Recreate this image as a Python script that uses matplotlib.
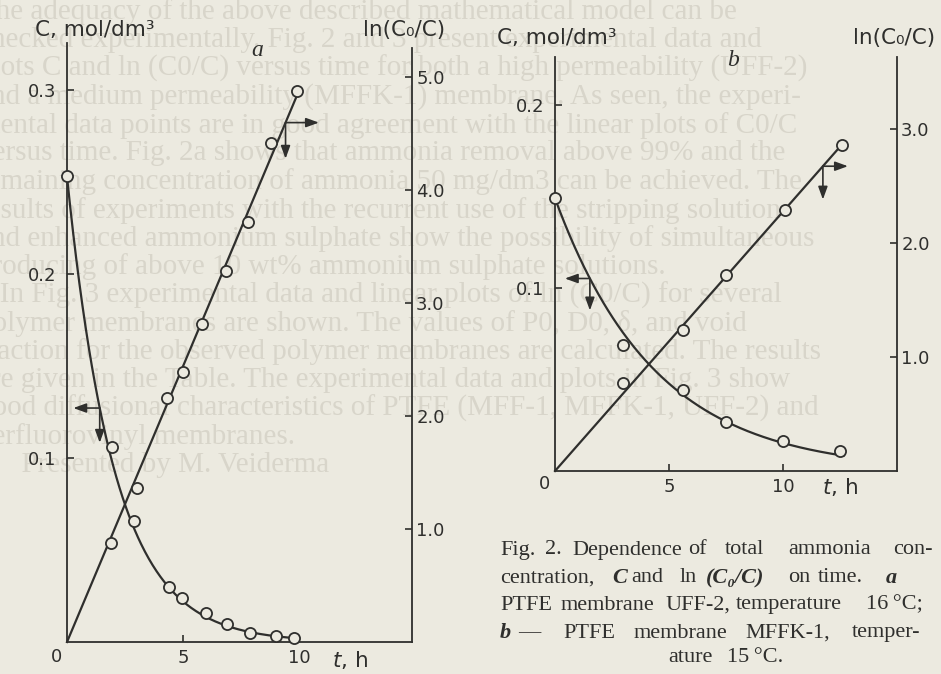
import numpy as np
import matplotlib
matplotlib.use("Agg")
import matplotlib.pyplot as plt

# ---------------- data ----------------
# panel a : PTFE membrane UFF-2, 16 °C
a_t_conc = [0.0, 1.95, 2.9, 4.4, 4.95, 6.0, 6.9, 7.9, 9.0, 9.8]
a_conc = [0.253, 0.106, 0.066, 0.030, 0.024, 0.016, 0.010, 0.005, 0.003, 0.002]
a_t_ln = [1.9, 3.0, 4.3, 5.0, 5.8, 6.85, 7.8, 8.8, 9.9]
a_ln = [0.88, 1.36, 2.16, 2.39, 2.81, 3.28, 3.72, 4.42, 4.88]
# panel b : PTFE membrane MFFK-1, 15 °C
b_t_conc = [0.0, 3.0, 5.6, 7.5, 10.0, 12.5]
b_conc = [0.149, 0.069, 0.044, 0.027, 0.0166, 0.011]
b_t_ln = [3.0, 5.6, 7.5, 10.1, 12.6]
b_ln = [0.77, 1.24, 1.72, 2.29, 2.86]

c_ticks_a = [0.1, 0.2, 0.3]
ln_ticks_a = [1.0, 2.0, 3.0, 4.0, 5.0]
c_ticks_b = [0.1, 0.2]
ln_ticks_b = [1.0, 2.0, 3.0]
t_ticks = [5, 10]

caption_lines = [
    [("Fig.", 500, ""), ("2.", 545, ""), ("Dependence", 572, ""), ("of", 688, ""),
     ("total", 725, ""), ("ammonia", 788, ""), ("con-", 893, "")],
    [("centration,", 500, ""), ("C", 612, "bi"), ("and", 631, ""), ("ln", 680, ""),
     ("(C\u2080/C)", 706, "bi"), ("on", 788, ""), ("time.", 818, ""), ("a", 886, "bi")],
    [("PTFE", 500, ""), ("membrane", 561, ""), ("UFF-2,", 665, ""),
     ("temperature", 736, ""), ("16\u2009°C;", 866, "")],
    [("b", 500, "bi"), ("\u2014", 518, ""), ("PTFE", 563, ""), ("membrane", 634, ""),
     ("MFFK-1,", 745, ""), ("temper-", 852, "")],
    [("ature", 668, ""), ("15\u2009°C.", 727, "")],
]
caption_y = [550, 578, 605, 633, 658]

background_text = [
    "The adequacy of the above described mathematical model can be",
    "checked experimentally. Fig. 2 and 3 present experimental data and",
    "plots C and ln (C0/C) versus time for both a high permeability (UFF-2)",
    "and a medium permeability (MFFK-1) membrane. As seen, the experi-",
    "mental data points are in good agreement with the linear plots of C0/C",
    "versus time. Fig. 2a shows that ammonia removal above 99% and the",
    "remaining concentration of ammonia 50 mg/dm3 can be achieved. The",
    "results of experiments with the recurrent use of the stripping solution",
    "and enhanced ammonium sulphate show the possibility of simultaneous",
    "producing of above 10 wt% ammonium sulphate solutions.",
    "   In Fig. 3 experimental data and linear plots of ln (C0/C) for several",
    "polymer membranes are shown. The values of P0, D0, \u03b4, and void",
    "fraction for the observed polymer membranes are calculated. The results",
    "are given in the Table. The experimental data and plots in Fig. 3 show",
    "good diffusional characteristics of PTFE (MFF-1, MFFK-1, UFF-2) and",
    "perfluorovinyl membranes.",
    "      Presented by M. Veiderma",
]

# ---------------- style ----------------
W, H = 941, 674
paper = "#eceae0"
ink = "#2f2f2d"
faint = "#d8d5ca"


def fx(x):
    return x / W


def fy(y):
    return 1 - y / H


fig = plt.figure(figsize=(W / 100, H / 100), dpi=100, facecolor=paper)

# faint show-through text of the page
for i, line in enumerate(background_text):
    fig.text(fx(-22), fy(12 + 28.3 * i), line, family=["Liberation Serif", "DejaVu Serif"],
             fontsize=21, color=faint, va="center", ha="left", zorder=-5)


def make_panel(rect_px, xmax, cmax, lnmax, ln_top):
    l, r, b, t = rect_px
    ax = fig.add_axes([fx(l), fy(b), fx(r) - fx(l), (b - t) / H])
    ax2 = ax.twinx()
    for a in (ax, ax2):
        a.patch.set_visible(False)
        a.set_xlim(0, xmax)
        for s in a.spines.values():
            s.set_color(ink)
            s.set_linewidth(1.3)
        a.spines["top"].set_visible(False)
    ax.spines["right"].set_visible(False)
    ax2.spines["left"].set_visible(False)
    ax2.spines["bottom"].set_visible(False)
    ax.set_ylim(0, cmax)
    ax2.set_ylim(0, lnmax)
    ax2.spines["right"].set_bounds(0, ln_top)
    ax.tick_params(direction="in", length=5, width=1.2, colors=ink, labelsize=13)
    ax2.tick_params(direction="in", length=5, width=1.2, colors=ink, labelsize=13)
    ax.tick_params(axis="y", pad=8)
    ax.tick_params(axis="x", pad=5)
    ax2.tick_params(axis="y", pad=3)
    ax.set_xticks(t_ticks)
    ax.set_xticklabels([str(v) for v in t_ticks])
    return ax, ax2


def draw_data(ax, ax2, t_c, c, t_l, l):
    t_l = np.asarray(t_l)
    l = np.asarray(l)
    k = np.sum(t_l * l) / np.sum(t_l ** 2)          # fitted slope of ln(C0/C)
    tc = np.linspace(0, t_c[-1] + 0.15, 300)
    ax.plot(tc, c[0] * np.exp(-k * tc), color=ink, lw=1.6, clip_on=False, zorder=2)
    tl = np.array([0, t_l[-1]])
    ax2.plot(tl, k * tl, color=ink, lw=1.6, clip_on=False, zorder=2)
    mk = dict(ls="none", marker="o", ms=8, mfc=paper, mec=ink, mew=1.3, clip_on=False, zorder=4)
    ax.plot(t_c, c, **mk)
    ax2.plot(t_l, l, **mk)
    return k, c[0]


def arrows(ax, x0, y0, dx, dy):
    ap = dict(arrowstyle="<|-,head_length=0.55,head_width=0.2", mutation_scale=14,
              lw=1.2, color=ink, shrinkA=0, shrinkB=0)
    ax.annotate("", xy=(x0, y0), xytext=(dx, 0), textcoords="offset points", arrowprops=ap,
                annotation_clip=False)
    ax.annotate("", xy=(x0, y0), xytext=(0, -dy), textcoords="offset points", arrowprops=ap,
                annotation_clip=False)


# panel a
axa, axa2 = make_panel((67, 412, 642, 43), 14.87, (642 - 43) / 1840, (642 - 43) / 113,
                       (642 - 48) / 113)
axa.set_yticks(c_ticks_a)
axa.set_yticklabels([f"{v:.1f}" for v in c_ticks_a])
axa2.set_yticks(ln_ticks_a)
axa2.set_yticklabels([f"{v:.1f}" for v in ln_ticks_a])
ka, c0a = draw_data(axa, axa2, a_t_conc, a_conc, a_t_ln, a_ln)
arrows(axa, 1.41, c0a * np.exp(-ka * 1.41), -19, 25)
arrows(axa2, 9.42, ka * 9.42, 24, 26)

# panel b
axb, axb2 = make_panel((555, 897, 471, 57), 15.0, 414 / 1830, 414 / 114, 414 / 114)
axb.set_yticks(c_ticks_b)
axb.set_yticklabels([f"{v:.1f}" for v in c_ticks_b])
axb2.set_yticks(ln_ticks_b)
axb2.set_yticklabels([f"{v:.1f}" for v in ln_ticks_b])
kb, c0b = draw_data(axb, axb2, b_t_conc, b_conc, b_t_ln, b_ln)
arrows(axb, 1.53, c0b * np.exp(-kb * 1.53), -18, 23)
arrows(axb2, 11.75, kb * 11.75, 18, 24)

# axis titles and panel letters
lab = dict(color=ink, fontsize=15.5, va="center", ha="left")
fig.text(fx(35), fy(30), "C, mol/dm\u00b3", **lab)
fig.text(fx(363), fy(30), "ln(C\u2080/C)", **lab)
fig.text(fx(332), fy(660), "$t$, h", **lab)
fig.text(fx(57), fy(657), "0", color=ink, fontsize=13, va="center", ha="center")
fig.text(fx(257), fy(50), "a", color=ink, fontsize=17, style="italic",
         family="Liberation Serif", va="center", ha="center")

fig.text(fx(497), fy(38), "C, mol/dm\u00b3", **lab)
fig.text(fx(853), fy(38), "ln(C\u2080/C)", **lab)
fig.text(fx(822), fy(487), "$t$, h", **lab)
fig.text(fx(544), fy(484), "0", color=ink, fontsize=13, va="center", ha="center")
fig.text(fx(733), fy(60), "b", color=ink, fontsize=17, style="italic",
         family="Liberation Serif", va="center", ha="center")

# caption
for y, words in zip(caption_y, caption_lines):
    for word, x, st in words:
        kw = dict(color=ink, fontsize=16, va="center", ha="left",
                  family=["Liberation Serif", "DejaVu Serif"])
        if st == "bi":
            kw.update(style="italic", weight="bold")
        fig.text(fx(x), fy(y), word, **kw)

fig.savefig("out.png", dpi=100, facecolor=paper)
